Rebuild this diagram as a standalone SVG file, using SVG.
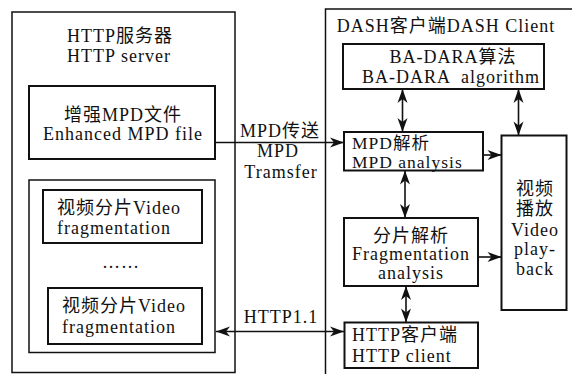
<svg xmlns="http://www.w3.org/2000/svg" width="572" height="374" viewBox="0 0 572 374">
  <style>
    text { font-family: "Liberation Serif", "Noto Sans CJK SC", serif; font-size: 18px; letter-spacing: 1px; fill: #111; }
    .c { text-anchor: middle; }
    .tight { font-size: 17.5px; }
    .outer { fill: #fff; stroke: #111; stroke-width: 1.5; }
    .box { fill: #fff; stroke: #111; stroke-width: 2; }
    .wire { fill: none; stroke: #111; stroke-width: 1.6; }
  </style>
  <defs>
    <marker id="arrow" viewBox="-15 -6 15 12" refX="0" refY="0" markerWidth="15" markerHeight="12" markerUnits="userSpaceOnUse" orient="auto-start-reverse">
      <path d="M0,0 L-14,-5 L-10,0 L-14,5 Z" fill="#111"/>
    </marker>
  </defs>
  <rect width="572" height="374" fill="#fff"/>

  <!-- HTTP server side -->
  <g id="http-server">
    <rect class="outer" x="12" y="12" width="223" height="360.5"/>
    <text class="c" x="120" y="41.5">HTTP服务器</text>
    <text class="c" x="119" y="61.5">HTTP server</text>
  </g>
  <g id="enhanced-mpd">
    <rect class="box" x="29" y="86" width="186" height="73"/>
    <text class="c" x="123" y="120.5">增强MPD文件</text>
    <text class="c" x="123" y="140">Enhanced MPD file</text>
  </g>
  <g id="fragment-store">
    <rect class="outer" x="29" y="180" width="186" height="172.5"/>
    <text class="c" x="121" y="268">……</text>
  </g>
  <g id="video-fragment-1">
    <rect class="box" x="43" y="190" width="159" height="53"/>
    <text x="57" y="213.5">视频分片Video</text>
    <text x="57" y="233.5">fragmentation</text>
  </g>
  <g id="video-fragment-2">
    <rect class="box" x="48" y="288" width="154" height="56"/>
    <text x="62" y="311.5">视频分片Video</text>
    <text x="62" y="332.5">fragmentation</text>
  </g>

  <!-- DASH client side -->
  <g id="dash-client">
    <rect class="outer" x="325.5" y="9" width="260" height="380"/>
    <text class="c" x="446" y="32">DASH客户端DASH Client</text>
  </g>
  <g id="ba-dara">
    <rect class="box" x="343" y="44" width="201" height="45"/>
    <text class="c" x="453" y="63">BA-DARA算法</text>
    <text class="c" x="451" y="82.5" xml:space="preserve">BA-DARA  algorithm</text>
  </g>
  <g id="mpd-analysis">
    <rect class="box" x="344" y="132" width="139" height="38.5"/>
    <text class="tight" x="352" y="148.5">MPD解析</text>
    <text class="tight" x="352" y="167.5">MPD analysis</text>
  </g>
  <g id="video-playback">
    <rect class="box" x="501.5" y="135.5" width="65" height="174.5"/>
    <text class="c" x="535" y="195">视频</text>
    <text class="c" x="535" y="215">播放</text>
    <text class="c" x="535" y="236">Video</text>
    <text class="c" x="535" y="255">play-</text>
    <text class="c" x="535" y="275">back</text>
  </g>
  <g id="fragment-analysis">
    <rect class="box" x="344" y="218" width="134" height="68"/>
    <text class="c" x="411" y="241.5">分片解析</text>
    <text class="c" x="411" y="260">Fragmentation</text>
    <text class="c" x="411" y="279">analysis</text>
  </g>
  <g id="http-client">
    <rect class="box" x="344.5" y="322.5" width="133.5" height="45.5"/>
    <text x="352" y="341">HTTP客户端</text>
    <text x="352" y="362">HTTP client</text>
  </g>

  <!-- connectors -->
  <g id="connectors">
    <line class="wire" x1="215" y1="142.5" x2="344" y2="142.5" marker-end="url(#arrow)"/>
    <text class="c" x="280" y="136.5">MPD传送</text>
    <text class="c" x="278" y="156.5">MPD</text>
    <text class="c" x="281" y="178">Tramsfer</text>

    <line class="wire" x1="216" y1="331.5" x2="344" y2="331.5" marker-start="url(#arrow)" marker-end="url(#arrow)"/>
    <text class="c" x="281" y="323">HTTP1.1</text>

    <line class="wire" x1="402.5" y1="89" x2="402.5" y2="132" marker-start="url(#arrow)" marker-end="url(#arrow)"/>
    <line class="wire" x1="518.5" y1="89" x2="518.5" y2="135.5" marker-start="url(#arrow)" marker-end="url(#arrow)"/>
    <line class="wire" x1="405" y1="170.5" x2="405" y2="218" marker-start="url(#arrow)" marker-end="url(#arrow)"/>
    <line class="wire" x1="406" y1="286" x2="406" y2="322.5" marker-start="url(#arrow)" marker-end="url(#arrow)"/>
    <line class="wire" x1="483" y1="155" x2="501.5" y2="155" marker-end="url(#arrow)"/>
    <line class="wire" x1="478" y1="257" x2="501.5" y2="257" marker-end="url(#arrow)"/>
  </g>
</svg>
